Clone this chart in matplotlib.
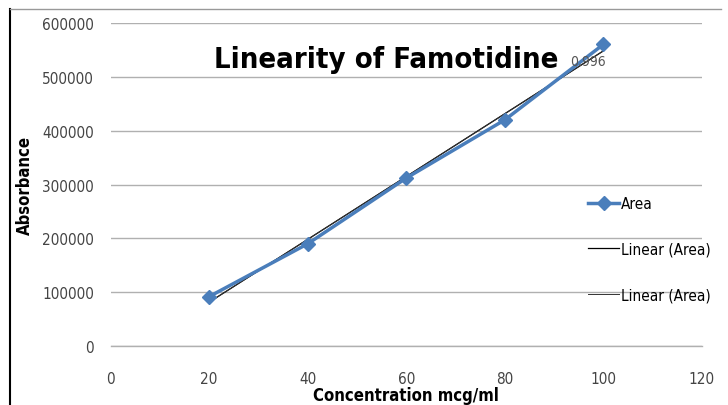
import numpy as np
import matplotlib.pyplot as plt

conc = [20, 40, 60, 80, 100]
area = [92000, 190000, 312000, 420000, 560000]
x_ticks = [0, 20, 40, 60, 80, 100, 120]
y_ticks = [0, 100000, 200000, 300000, 400000, 500000, 600000]

plt.rcParams['font.family'] = ['DejaVu Sans']
plt.rcParams['font.stretch'] = 'condensed'

fig = plt.figure(figsize=(7.28, 4.06), dpi=100)
ax = fig.add_axes([0.152, 0.145, 0.812, 0.796])

# linear trendline
m, c = np.polyfit(conc, area, 1)
xs = np.array([conc[0], conc[-1]])
ax.plot(xs, m * xs + c, color='black', lw=0.9, label='Linear (Area)')
ax.plot(xs, m * xs + c, color='#333333', lw=0.7, label='Linear (Area)')
ax.plot(conc, area, color='#4a7ebb', lw=2.5, marker='D', ms=7, label='Area', zorder=3)

ax.set_xlim(0, 120)
ax.set_ylim(0, 600000)
ax.set_xticks(x_ticks)
ax.set_yticks(y_ticks)
ax.grid(axis='y', color='#b0b0b0', lw=1)
ax.axhline(0, color='#b0b0b0', lw=1, clip_on=False, zorder=0)
ax.set_axisbelow(True)
for s in ax.spines.values():
    s.set_visible(False)
ax.tick_params(axis='x', length=0, pad=18, labelsize=11, colors='#444444')
ax.tick_params(axis='y', length=0, pad=12, labelsize=11, colors='#444444')

ax.set_xlabel('Concentration mcg/ml', fontsize=12, fontweight='bold', labelpad=0)
ax.set_ylabel('Absorbance', fontsize=12, fontweight='bold', labelpad=6)

fig.text(570 / 728, 1 - 62 / 406, '0.996', fontsize=10, color='#555555', va='center')
fig.text(386 / 728, 1 - 60 / 406, 'Linearity of Famotidine', ha='center', va='center',
         fontsize=21, fontweight='bold')

h, l = ax.get_legend_handles_labels()
leg = ax.legend([h[2], h[0], h[1]], [l[2], l[0], l[1]], loc='center left',
                bbox_to_anchor=(0.785, 0.3), frameon=False, fontsize=11,
                labelspacing=2.0, handlelength=2.0, handletextpad=0.1)

fig.add_artist(plt.Line2D([0.014, 0.014], [0, 0.975], color='black', lw=1.5))
fig.add_artist(plt.Line2D([0.014, 0.99], [0.975, 0.975], color='#999999', lw=1))

fig.savefig('out.png', dpi=100)
